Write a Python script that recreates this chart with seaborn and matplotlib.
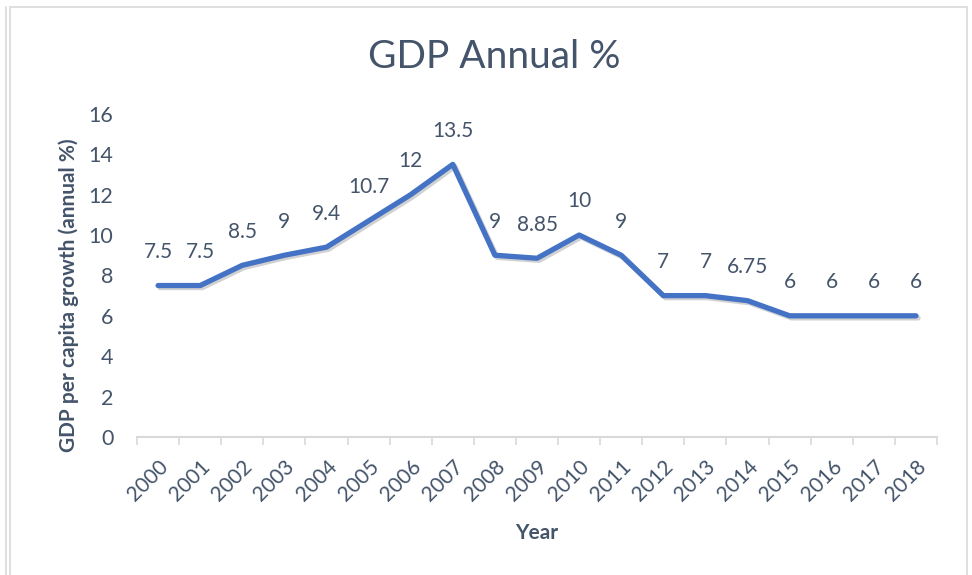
import matplotlib
matplotlib.use("Agg")
import matplotlib.pyplot as plt
import matplotlib.patheffects as pe
from matplotlib.patches import Rectangle
from matplotlib.lines import Line2D
import numpy as np
import pandas as pd
import seaborn as sns

years = ["2000", "2001", "2002", "2003", "2004", "2005", "2006", "2007", "2008", "2009",
         "2010", "2011", "2012", "2013", "2014", "2015", "2016", "2017", "2018"]
growth = [7.5, 7.5, 8.5, 9, 9.4, 10.7, 12, 13.5, 9, 8.85,
          10, 9, 7, 7, 6.75, 6, 6, 6, 6]
value_labels = ["7.5", "7.5", "8.5", "9", "9.4", "10.7", "12", "13.5", "9", "8.85",
                "10", "9", "7", "7", "6.75", "6", "6", "6", "6"]
y_ticks = [0, 2, 4, 6, 8, 10, 12, 14, 16]

title = "GDP Annual %"
x_label = "Year"
y_label = "GDP per capita growth (annual %)"

TEXT = "#44546A"
LINE = "#4472C4"
AXIS = "#D9D9D9"

sns.set_theme(style="white")
plt.rcParams["font.family"] = ["Lato", "DejaVu Sans"]

df = pd.DataFrame({"pos": np.arange(len(years)), "growth": growth})

fig = plt.figure(figsize=(9.72, 5.75), dpi=100)
ax = fig.add_axes([0.141, 0.240, 0.823, 0.562])

sns.lineplot(data=df, x="pos", y="growth", ax=ax, color=LINE, linewidth=3.8,
             solid_capstyle="round", solid_joinstyle="round",
             path_effects=[pe.SimpleLineShadow(offset=(1.5, -1.5), alpha=0.18, shadow_color="black"),
                           pe.Normal()])

for x, v, lab in zip(df["pos"], growth, value_labels):
    ax.annotate(lab, (x, v), xytext=(0, 17), textcoords="offset points",
                ha="center", va="bottom", fontsize=15, color=TEXT)

ax.set_xlim(-0.5, len(years) - 0.5)
ax.set_ylim(0, 16)
ax.set_yticks(y_ticks)
ax.set_yticklabels([str(t) for t in y_ticks], fontsize=15.5, color=TEXT)
ax.set_xticks(df["pos"])
ax.set_xticklabels(years, rotation=45, ha="right", rotation_mode="anchor",
                   fontsize=15, color=TEXT)
ax.set_xticks(np.arange(-0.5, len(years)), minor=True)
ax.tick_params(axis="x", which="major", length=0, pad=14)
ax.tick_params(axis="x", which="minor", length=6, width=1.2, color=AXIS, direction="out", bottom=True)
ax.tick_params(axis="y", length=0, pad=17)

for side in ["top", "right", "left"]:
    ax.spines[side].set_visible(False)
ax.spines["bottom"].set_color(AXIS)
ax.spines["bottom"].set_linewidth(1.5)
ax.grid(False)

ax.set_xlabel(x_label, fontsize=15, fontweight="bold", color=TEXT)
ax.set_ylabel(y_label, fontsize=15, fontweight="bold", color=TEXT)
ax.xaxis.set_label_coords(0.5, -0.265)
ax.yaxis.set_label_coords(-0.086, -0.046)
ax.yaxis.label.set_verticalalignment("center")
ax.yaxis.label.set_horizontalalignment("left")
ax.yaxis.label.set_rotation_mode("anchor")
fig.text(0.508, 1 - 68 / 575, title, ha="center", va="baseline", fontsize=28, color=TEXT)

# chart frame and neighbouring panel edge
fig.add_artist(Rectangle((10 / 972, -0.01), 957 / 972, 1 - 7 / 575 + 0.01,
                         transform=fig.transFigure, fill=False, edgecolor="#D9D9D9", linewidth=1.2))
fig.add_artist(Line2D([6 / 972, 6 / 972], [0, 1 - 7 / 575], transform=fig.transFigure,
                      color="#D9D9D9", linewidth=1.2))

fig.savefig("out.png", dpi=100)
